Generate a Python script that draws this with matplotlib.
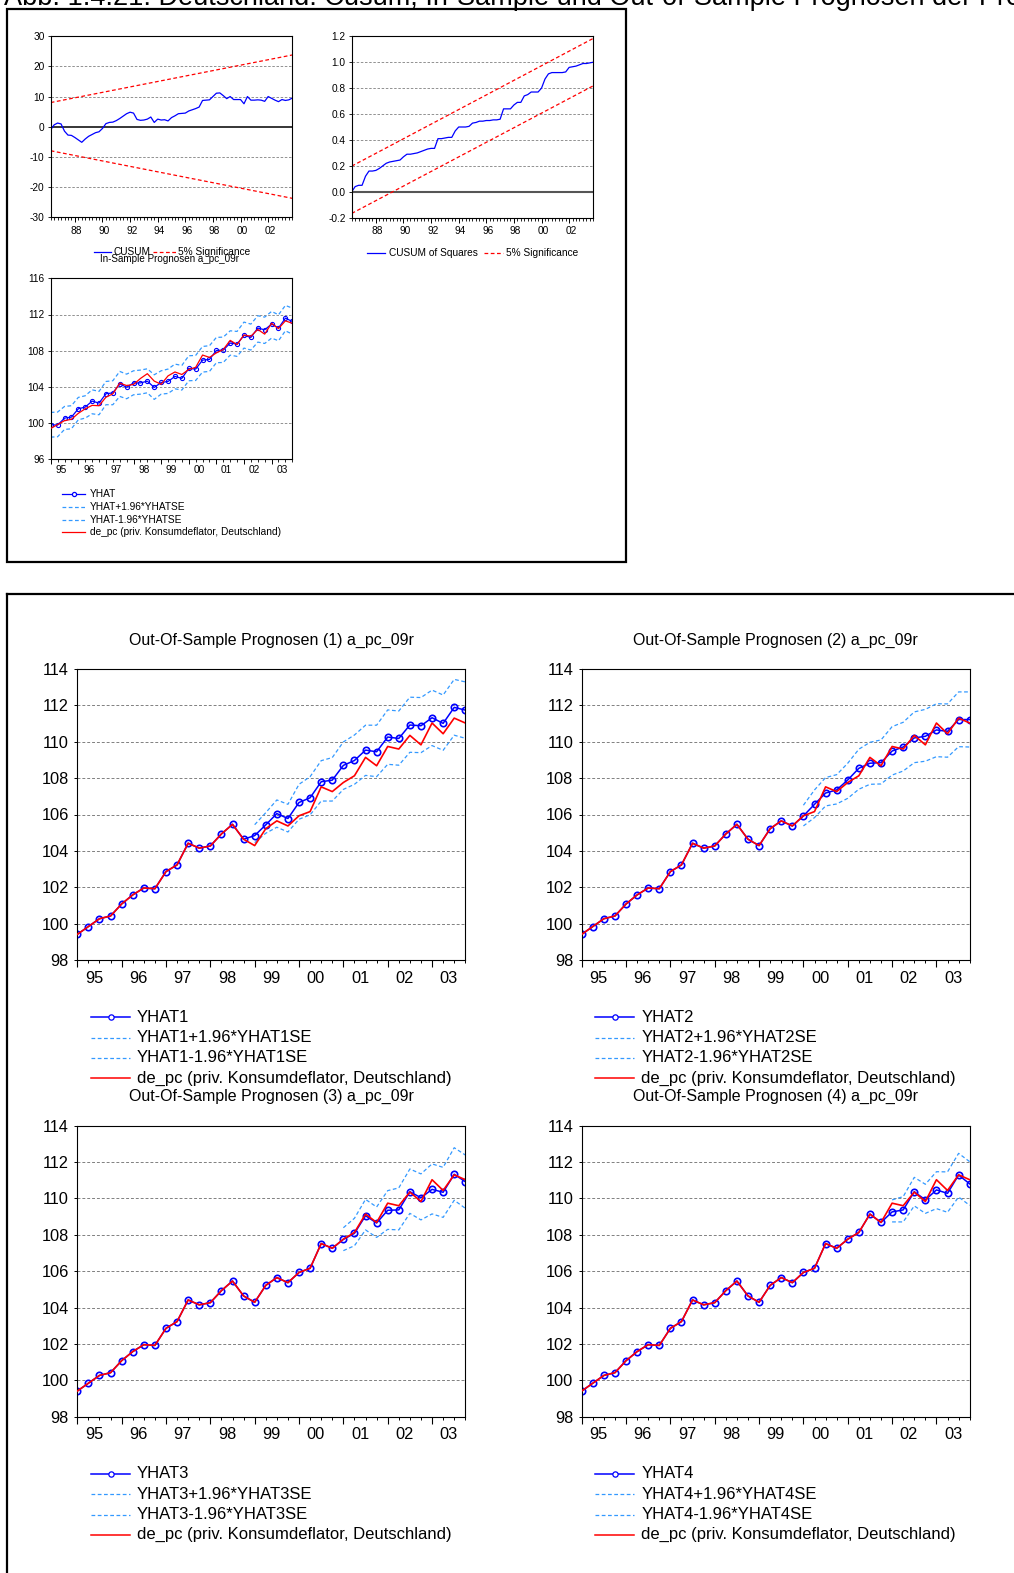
import numpy as np
import matplotlib
matplotlib.use('Agg')
import matplotlib.pyplot as plt
from matplotlib.lines import Line2D
from matplotlib.patches import Rectangle

plt.rcParams['font.family'] = ['Liberation Sans', 'DejaVu Sans']
plt.rcParams['axes.unicode_minus'] = False

# ---- data ----
# CUSUM test, 1986Q2 .. 2003Q4
cusum = [-1.0, 0.6, 1.2, 0.9, -1.5, -2.8, -2.9, -3.6, -4.4, -5.2,
         -4.1, -3.2, -2.6, -2.0, -1.7, -0.6, 1.0, 1.4, 1.5, 2.0,
         2.7, 3.5, 4.3, 4.8, 4.5, 2.4, 2.1, 2.2, 2.5, 3.2,
         1.4, 2.5, 2.2, 2.3, 1.9, 3.0, 3.6, 4.3, 4.4, 4.5,
         5.2, 5.6, 6.0, 6.5, 8.7, 8.8, 8.9, 10.0, 11.1, 11.2,
         10.3, 9.3, 10.0, 9.0, 9.0, 9.0, 7.6, 10.0, 8.8, 8.8,
         8.9, 8.8, 8.4, 10.0, 9.4, 8.8, 8.3, 9.0, 8.7, 8.9, 9.5]
cusum_sig_start = 8.0
cusum_sig_end = 23.8

cusumsq = [0.00, 0.04, 0.05, 0.05, 0.12, 0.16, 0.16, 0.165, 0.18, 0.20,
           0.22, 0.23, 0.235, 0.24, 0.245, 0.27, 0.29, 0.29, 0.295, 0.30,
           0.31, 0.32, 0.33, 0.335, 0.335, 0.41, 0.41, 0.415, 0.42, 0.42,
           0.47, 0.50, 0.50, 0.50, 0.505, 0.53, 0.535, 0.545, 0.545, 0.55,
           0.55, 0.555, 0.555, 0.56, 0.64, 0.64, 0.64, 0.67, 0.69, 0.69,
           0.74, 0.75, 0.77, 0.77, 0.77, 0.80, 0.87, 0.91, 0.92, 0.92,
           0.92, 0.92, 0.925, 0.96, 0.965, 0.97, 0.98, 0.99, 0.99, 0.995, 1.00]
sq_upper = [0.198, 1.184]
sq_lower = [-0.167, 0.818]

# de_pc (actual), 1995Q1 .. 2003Q4
actual = [99.41, 99.84, 100.27, 100.42, 101.08, 101.58, 101.96, 101.92,
          102.86, 103.23, 104.42, 104.15, 104.27, 104.93, 105.46, 104.64,
          104.29, 105.22, 105.65, 105.37, 105.93, 106.16, 107.52, 107.26,
          107.76, 108.13, 109.14, 108.68, 109.74, 109.60, 110.35, 109.83,
          111.03, 110.44, 111.30, 111.03]

# in-sample fit
yhat = [99.82, 99.78, 100.55, 100.66, 101.58, 101.77, 102.43, 102.21,
        103.24, 103.34, 104.33, 103.96, 104.44, 104.44, 104.63, 103.94,
        104.49, 104.60, 105.16, 104.94, 106.04, 105.97, 106.96, 107.03,
        108.03, 108.07, 108.84, 108.73, 109.69, 109.47, 110.50, 110.31,
        110.94, 110.50, 111.60, 111.23]
yhat_up = [101.18, 101.22, 101.84, 101.92, 102.84, 103.02, 103.68, 103.50,
           104.60, 104.68, 105.71, 105.41, 105.78, 105.86, 106.00, 105.34,
           105.78, 105.97, 106.52, 106.37, 107.44, 107.48, 108.47, 108.55,
           109.47, 109.50, 110.20, 110.13, 111.16, 110.94, 111.86, 111.71,
           112.34, 111.97, 113.00, 112.71]
yhat_lo = [98.45, 98.49, 99.30, 99.37, 100.37, 100.55, 101.03, 100.92,
           102.03, 102.03, 102.95, 102.69, 103.13, 103.20, 103.35, 102.62,
           103.20, 103.28, 103.79, 103.65, 104.68, 104.71, 105.64, 105.71,
           106.67, 106.70, 107.51, 107.37, 108.29, 108.07, 108.95, 108.80,
           109.39, 109.10, 110.20, 109.83]

# out-of-sample forecasts (start index in quarters from 1995Q1)
start1 = 16
yhat1 = [104.84, 105.43, 106.05, 105.78, 106.66, 106.92, 107.80, 107.89, 108.70, 108.97,
         109.54, 109.45, 110.26, 110.18, 110.92, 110.88, 111.32, 111.01, 111.89, 111.74]
yhat1_up = [105.44, 106.10, 106.80, 106.56, 107.66, 108.08, 108.96, 109.13, 109.99, 110.37,
            110.91, 110.91, 111.75, 111.69, 112.45, 112.43, 112.84, 112.57, 113.43, 113.29]
yhat1_lo = [104.45, 104.97, 105.30, 105.04, 105.74, 105.98, 106.74, 106.74, 107.38, 107.66,
            108.15, 108.08, 108.76, 108.71, 109.42, 109.40, 109.79, 109.53, 110.36, 110.19]

start2 = 20
yhat2 = [105.92, 106.56, 107.18, 107.35, 107.90, 108.54, 108.82, 108.85,
         109.49, 109.71, 110.21, 110.30, 110.65, 110.57, 111.22, 111.22]
yhat2_up = [106.51, 107.35, 108.03, 108.19, 108.82, 109.59, 109.97, 110.10,
            110.83, 111.07, 111.64, 111.78, 112.09, 112.08, 112.74, 112.74]
yhat2_lo = [105.37, 105.83, 106.47, 106.58, 106.89, 107.39, 107.66, 107.68,
            108.17, 108.39, 108.85, 108.93, 109.18, 109.15, 109.73, 109.71]

start3 = 24
yhat3 = [107.75, 108.08, 109.05, 108.65, 109.35, 109.37, 110.37, 110.04, 110.50, 110.34, 111.33, 110.92]
yhat3_up = [108.39, 108.91, 109.95, 109.53, 110.43, 110.58, 111.62, 111.35, 111.90, 111.71, 112.79, 112.39]
yhat3_lo = [107.13, 107.40, 108.27, 107.86, 108.30, 108.27, 109.18, 108.82, 109.15, 108.96, 109.90, 109.46]

start4 = 28
yhat4 = [109.26, 109.37, 110.37, 109.92, 110.47, 110.28, 111.29, 110.80]
yhat4_up = [109.92, 110.10, 111.16, 110.78, 111.47, 111.46, 112.48, 112.02]
yhat4_lo = [108.71, 108.71, 109.59, 109.18, 109.44, 109.24, 110.08, 109.62]

year_labels = ['95', '96', '97', '98', '99', '00', '01', '02', '03']
cusum_labels = ['88', '90', '92', '94', '96', '98', '00', '02']
caption = 'Abb. 1.4.21: Deutschland: Cusum, In-Sample und Out-of-Sample Prognosen der Preise'

BLUE = '#0000ff'
LBLUE = '#3399ff'
RED = '#ff0000'
GRID = '#808080'
DASH = (0, (3, 2))
SMALL = 7.3

W, H = 1014, 1573
fig = plt.figure(figsize=(W / 100, H / 100), dpi=100)


def add_ax(l, t, r, b):
    return fig.add_axes([l / W, 1 - b / H, (r - l) / W, (b - t) / H])


def fx(x):
    return x / W


def fy(y):
    return 1 - y / H


def setup(ax, xmax, ylim, yticks, ylabels, fs, majors, label_pos, labels, xoff, big):
    ax.set_xlim(0, xmax)
    ax.set_ylim(*ylim)
    for s in ax.spines.values():
        s.set_linewidth(0.8)
    ax.set_yticks(yticks)
    ax.set_yticklabels(ylabels, fontsize=fs)
    ax.set_xticks(majors)
    ax.set_xticklabels([])
    ax.set_xticks(np.arange(0, xmax + 1), minor=True)
    if big:
        ax.tick_params(axis='y', length=2.5, width=0.7, pad=3.5)
        ax.tick_params(axis='x', which='major', length=4.8, width=0.8)
        ax.tick_params(axis='x', which='minor', length=2.4, width=0.7)
    else:
        ax.tick_params(axis='y', length=2, width=0.6, pad=2.5)
        ax.tick_params(axis='x', which='major', length=3.6, width=0.7)
        ax.tick_params(axis='x', which='minor', length=1.8, width=0.6)
    for p, lab in zip(label_pos, labels):
        ax.annotate(lab, xy=(p, 0), xycoords=('data', 'axes fraction'),
                    xytext=(0, -xoff), textcoords='offset points',
                    ha='center', va='center', fontsize=fs)


def legend_rows(x0, x1, xt, ys, entries, fs, ms, lw):
    for y, (lab, col, ls, mk) in zip(ys, entries):
        fig.add_artist(Line2D([fx(x0), fx(x1)], [fy(y), fy(y)], color=col, lw=lw if ls == '-' else 0.9,
                              ls=ls, transform=fig.transFigure))
        if mk:
            fig.add_artist(Line2D([fx((x0 + x1) / 2)], [fy(y)], color=col, marker='o', ms=ms,
                                  mfc='white', mew=0.9, transform=fig.transFigure))
        fig.text(fx(xt), fy(y), lab, fontsize=fs, va='center', ha='left')


# ---- caption and frames ----
fig.text(fx(4), fy(5), caption, fontsize=19.5, ha='left', va='baseline')
fig.add_artist(Rectangle((fx(7), fy(562)), fx(619), (562 - 9) / H, fill=False,
                         ec='black', lw=1.6, transform=fig.transFigure))
fig.add_artist(Line2D([fx(7), fx(1016)], [fy(594), fy(594)], color='black', lw=1.6,
                      transform=fig.transFigure))
fig.add_artist(Line2D([fx(7), fx(7)], [fy(594), fy(1575)], color='black', lw=1.6,
                      transform=fig.transFigure))

# ---- CUSUM ----
xc = np.arange(len(cusum))
ax = add_ax(50.7, 36.3, 292.3, 217)
setup(ax, len(cusum) - 1, (-30, 30), [-30, -20, -10, 0, 10, 20, 30],
      ['-30', '-20', '-10', '0', '10', '20', '30'], SMALL,
      np.arange(7, 70, 8), np.arange(7, 70, 8) + 0.5, cusum_labels, 9.8, False)
for v in [-20, -10, 10, 20]:
    ax.axhline(v, color=GRID, lw=0.6, ls=DASH, zorder=0)
ax.axhline(0, color='black', lw=1.1, zorder=1)
ax.plot([xc[0], xc[-1]], [cusum_sig_start, cusum_sig_end], color=RED, lw=0.9, ls=DASH)
ax.plot([xc[0], xc[-1]], [-cusum_sig_start, -cusum_sig_end], color=RED, lw=0.9, ls=DASH)
ax.plot(xc, cusum, color=BLUE, lw=0.9)

fig.add_artist(Line2D([fx(94), fx(111)], [fy(252), fy(252)], color=BLUE, lw=0.9, transform=fig.transFigure))
fig.text(fx(113), fy(252), 'CUSUM', fontsize=SMALL, va='center')
fig.add_artist(Line2D([fx(153), fx(176)], [fy(252), fy(252)], color=RED, lw=0.9, ls=DASH,
                      transform=fig.transFigure))
fig.text(fx(178), fy(252), '5% Significance', fontsize=SMALL, va='center')
fig.text(fx(170), fy(259.5), 'In-Sample Prognosen a_pc_09r', fontsize=7.1, va='center', ha='center')

# ---- CUSUM of squares ----
ax = add_ax(351.7, 36.3, 593.3, 217.7)
setup(ax, len(cusumsq) - 1, (-0.2, 1.2), [-0.2, 0.0, 0.2, 0.4, 0.6, 0.8, 1.0, 1.2],
      ['-0.2', '0.0', '0.2', '0.4', '0.6', '0.8', '1.0', '1.2'], SMALL,
      np.arange(7, 70, 8), np.arange(7, 70, 8) + 0.5, cusum_labels, 9.8, False)
for v in [0.2, 0.4, 0.6, 0.8, 1.0]:
    ax.axhline(v, color=GRID, lw=0.6, ls=DASH, zorder=0)
ax.axhline(0, color='#555555', lw=1.5, zorder=1)
ax.plot([xc[0], xc[-1]], sq_upper, color=RED, lw=0.9, ls=DASH)
ax.plot([xc[0], xc[-1]], sq_lower, color=RED, lw=0.9, ls=DASH)
ax.plot(xc, cusumsq, color=BLUE, lw=0.9)

fig.add_artist(Line2D([fx(367), fx(385)], [fy(253), fy(253)], color=BLUE, lw=0.9, transform=fig.transFigure))
fig.text(fx(389), fy(253), 'CUSUM of Squares', fontsize=SMALL, va='center')
fig.add_artist(Line2D([fx(484), fx(503)], [fy(253), fy(253)], color=RED, lw=0.9, ls=DASH,
                      transform=fig.transFigure))
fig.text(fx(506), fy(253), '5% Significance', fontsize=SMALL, va='center')

# ---- in-sample forecast ----
q = np.arange(len(actual))
ax = add_ax(50.7, 278.3, 292.3, 459.3)
setup(ax, 35, (96, 116), [96, 100, 104, 108, 112, 116],
      ['96', '100', '104', '108', '112', '116'], SMALL,
      np.arange(0, 36, 4), np.arange(0, 36, 4) + 1.5, year_labels, 7.6, False)
for v in [100, 104, 108, 112]:
    ax.axhline(v, color=GRID, lw=0.6, ls=DASH, zorder=0)
ax.plot(q, yhat_up, color=LBLUE, lw=0.9, ls=DASH)
ax.plot(q, yhat_lo, color=LBLUE, lw=0.9, ls=DASH)
ax.plot(q, yhat, color=BLUE, lw=0.9, marker='o', ms=3.0, mfc='none', mew=0.8)
ax.plot(q, actual, color=RED, lw=0.9, zorder=3)

legend_rows(62, 85, 90, [494, 507, 520, 532],
            [('YHAT', BLUE, '-', True),
             ('YHAT+1.96*YHATSE', LBLUE, DASH, False),
             ('YHAT-1.96*YHATSE', LBLUE, DASH, False),
             ('de_pc (priv. Konsumdeflator, Deutschland)', RED, '-', False)], SMALL, 3.0, 0.9)

# ---- out-of-sample forecasts ----
panels = [(1, start1, yhat1, yhat1_up, yhat1_lo, 77.3, 669),
          (2, start2, yhat2, yhat2_up, yhat2_lo, 581.7, 669),
          (3, start3, yhat3, yhat3_up, yhat3_lo, 77.3, 1125.7),
          (4, start4, yhat4, yhat4_up, yhat4_lo, 581.7, 1125.7)]

for k, st, fc, up, lo, left, top in panels:
    ax = add_ax(left, top, left + 388, top + 291)
    setup(ax, 35, (98, 114), list(range(98, 115, 2)),
          [str(v) for v in range(98, 115, 2)], 11.8,
          np.arange(0, 36, 4), np.arange(0, 36, 4) + 1.5, year_labels, 13.0, True)
    for v in range(100, 114, 2):
        ax.axhline(v, color=GRID, lw=0.7, ls=DASH, zorder=0)
    qf = q[st:]
    ax.plot(qf, up, color=LBLUE, lw=0.9, ls=DASH)
    ax.plot(qf, lo, color=LBLUE, lw=0.9, ls=DASH)
    full = actual[:st] + fc
    ax.plot(q, full, color=BLUE, lw=1.1, marker='o', ms=4.6, mfc='none', mew=1.2, zorder=2)
    ax.plot(q, actual, color=RED, lw=1.2, zorder=3)
    fig.text(fx(left + 194), fy(top - 29), 'Out-Of-Sample Prognosen (%d) a_pc_09r' % k,
             fontsize=11.5, ha='center', va='center')
    dy = top - 669
    legend_rows(left + 13.7, left + 52.7, left + 59.7,
                [1017 + dy, 1037.5 + dy, 1058 + dy, 1078 + dy],
                [('YHAT%d' % k, BLUE, '-', True),
                 ('YHAT%d+1.96*YHAT%dSE' % (k, k), LBLUE, DASH, False),
                 ('YHAT%d-1.96*YHAT%dSE' % (k, k), LBLUE, DASH, False),
                 ('de_pc (priv. Konsumdeflator, Deutschland)', RED, '-', False)], 12.0, 3.8, 1.1)

fig.savefig('out.png', dpi=100)
